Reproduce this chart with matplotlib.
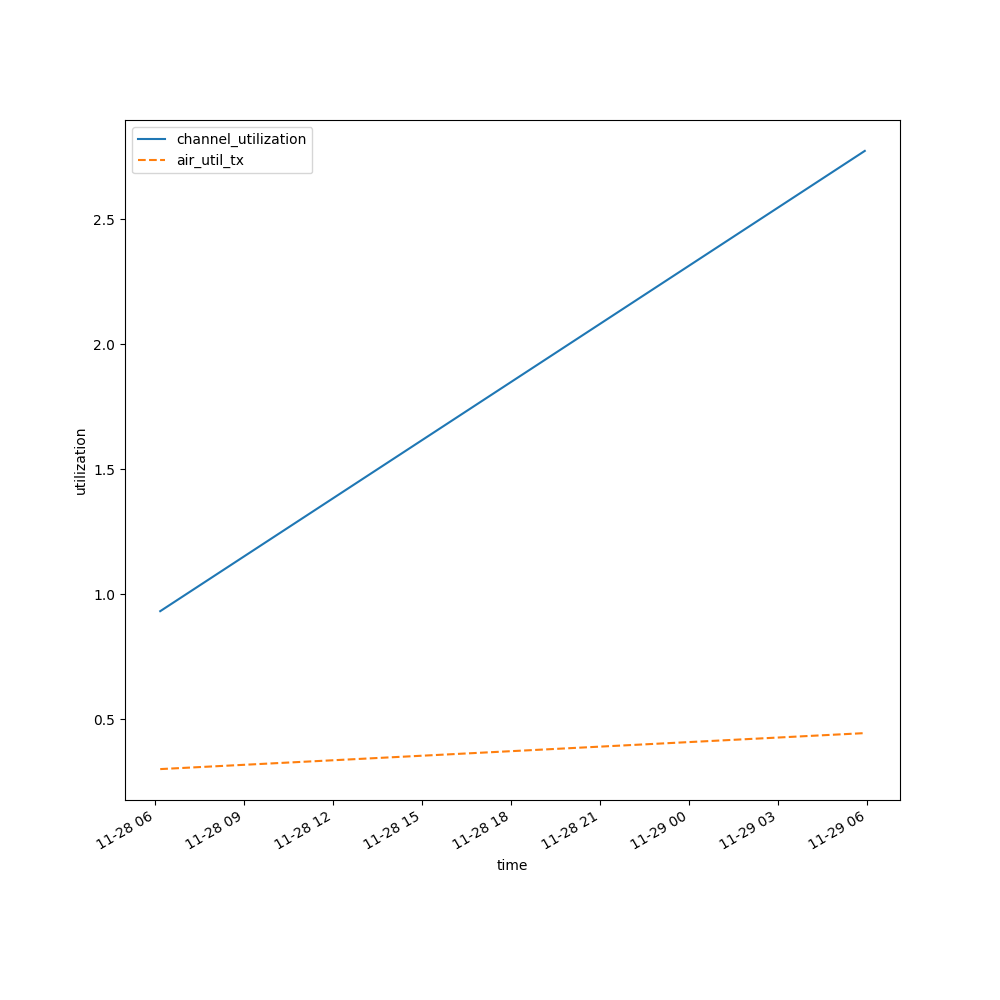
import matplotlib
matplotlib.use("Agg")
import matplotlib.pyplot as plt
import pandas as pd

# readings at the two ends of the window
times = pd.to_datetime(["2023-11-28 06:10", "2023-11-29 05:55"])
channel_utilization = [0.932, 2.774]
air_util_tx = [0.300, 0.444]

fig, ax = plt.subplots(figsize=(10, 10), dpi=100)
ax.plot(times, channel_utilization, label="channel_utilization")
ax.plot(times, air_util_tx, linestyle="--", label="air_util_tx")
ax.set_xlabel("time")
ax.set_ylabel("utilization")
ax.legend(loc="upper left")
fig.autofmt_xdate()

fig.savefig("out.png")
